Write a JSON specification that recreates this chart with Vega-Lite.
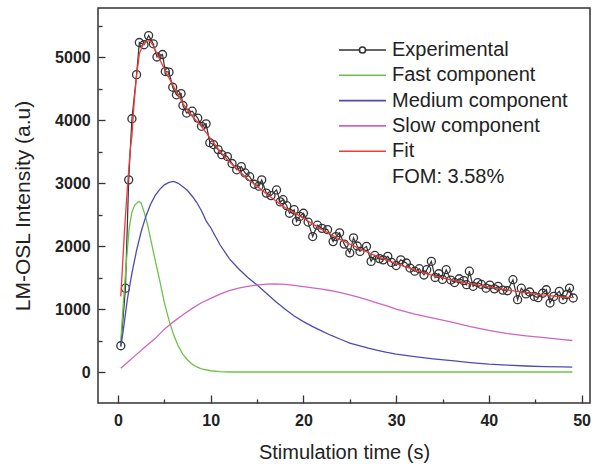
{
  "$schema": "https://vega.github.io/schema/vega-lite/v6.json",
  "width": 492,
  "height": 395,
  "autosize": "none",
  "padding": {"left": 98, "top": 8, "right": 5, "bottom": 61},
  "config": {
    "view": {"stroke": "#333333", "strokeWidth": 1.5},
    "font": "Liberation Sans"
  },
  "datasets": {
    "exp": [
      {"t": 0.3, "I": 417}, {"t": 0.8, "I": 1330}, {"t": 1.15, "I": 3050}, {"t": 1.5, "I": 4020},
      {"t": 2.0, "I": 4720}, {"t": 2.3, "I": 5230}, {"t": 2.8, "I": 5195}, {"t": 3.3, "I": 5340},
      {"t": 3.8, "I": 5210}, {"t": 4.2, "I": 5000}, {"t": 4.8, "I": 5040}, {"t": 5.1, "I": 4770},
      {"t": 5.5, "I": 4760}, {"t": 5.9, "I": 4520}, {"t": 6.3, "I": 4400}, {"t": 6.8, "I": 4420},
      {"t": 7.0, "I": 4230}, {"t": 7.4, "I": 4110}, {"t": 8.0, "I": 4140}, {"t": 8.6, "I": 4030},
      {"t": 9.0, "I": 3900}, {"t": 9.5, "I": 3940}, {"t": 9.9, "I": 3640}, {"t": 10.3, "I": 3610},
      {"t": 10.8, "I": 3530}, {"t": 11.2, "I": 3450}, {"t": 11.8, "I": 3420}, {"t": 12.3, "I": 3310},
      {"t": 12.8, "I": 3210}, {"t": 13.3, "I": 3260}, {"t": 13.7, "I": 3160}, {"t": 14.2, "I": 3100},
      {"t": 14.7, "I": 2980}, {"t": 15.2, "I": 2950}, {"t": 15.5, "I": 3050}, {"t": 16.0, "I": 2840},
      {"t": 16.5, "I": 2800}, {"t": 17.1, "I": 2890}, {"t": 17.5, "I": 2700}, {"t": 17.8, "I": 2735},
      {"t": 18.2, "I": 2640}, {"t": 18.5, "I": 2520}, {"t": 19.0, "I": 2576}, {"t": 19.25, "I": 2390},
      {"t": 19.6, "I": 2470}, {"t": 20.0, "I": 2520}, {"t": 20.5, "I": 2380}, {"t": 21.0, "I": 2150},
      {"t": 21.5, "I": 2330}, {"t": 22.0, "I": 2280}, {"t": 22.6, "I": 2260}, {"t": 23.2, "I": 2070},
      {"t": 23.5, "I": 2150}, {"t": 23.9, "I": 2210}, {"t": 24.4, "I": 2030}, {"t": 25.0, "I": 1890},
      {"t": 25.4, "I": 2130}, {"t": 25.8, "I": 2000}, {"t": 26.1, "I": 1914}, {"t": 26.8, "I": 1994},
      {"t": 27.3, "I": 1756}, {"t": 27.7, "I": 1850}, {"t": 28.2, "I": 1800}, {"t": 28.6, "I": 1780},
      {"t": 29.1, "I": 1835}, {"t": 29.5, "I": 1740}, {"t": 30.0, "I": 1690}, {"t": 30.5, "I": 1780},
      {"t": 31.1, "I": 1730}, {"t": 31.5, "I": 1650}, {"t": 32.0, "I": 1600}, {"t": 32.5, "I": 1640},
      {"t": 33.0, "I": 1540}, {"t": 33.3, "I": 1624}, {"t": 33.8, "I": 1756}, {"t": 34.2, "I": 1500},
      {"t": 34.6, "I": 1560}, {"t": 35.0, "I": 1470}, {"t": 35.4, "I": 1624}, {"t": 35.9, "I": 1460},
      {"t": 36.3, "I": 1420}, {"t": 36.8, "I": 1480}, {"t": 37.3, "I": 1450}, {"t": 37.6, "I": 1386},
      {"t": 37.9, "I": 1600}, {"t": 38.3, "I": 1360}, {"t": 38.8, "I": 1420}, {"t": 39.2, "I": 1390},
      {"t": 39.7, "I": 1330}, {"t": 40.1, "I": 1380}, {"t": 40.6, "I": 1320}, {"t": 41.0, "I": 1360},
      {"t": 41.5, "I": 1300}, {"t": 42.0, "I": 1290}, {"t": 42.6, "I": 1465}, {"t": 43.1, "I": 1148},
      {"t": 43.5, "I": 1330}, {"t": 44.0, "I": 1240}, {"t": 44.4, "I": 1270}, {"t": 44.9, "I": 1200},
      {"t": 45.3, "I": 1180}, {"t": 45.8, "I": 1250}, {"t": 46.2, "I": 1306}, {"t": 46.6, "I": 1095},
      {"t": 47.0, "I": 1200}, {"t": 47.6, "I": 1280}, {"t": 48.0, "I": 1150}, {"t": 48.4, "I": 1230},
      {"t": 48.7, "I": 1333}, {"t": 49.1, "I": 1175}
    ],
    "comps": [
      {"s": "Fast component", "t": 0.3, "I": 500}, {"s": "Fast component", "t": 0.6, "I": 1150},
      {"s": "Fast component", "t": 0.9, "I": 1750}, {"s": "Fast component", "t": 1.2, "I": 2280},
      {"s": "Fast component", "t": 1.5, "I": 2540}, {"s": "Fast component", "t": 1.8, "I": 2650},
      {"s": "Fast component", "t": 2.1, "I": 2695}, {"s": "Fast component", "t": 2.3, "I": 2705},
      {"s": "Fast component", "t": 2.5, "I": 2680}, {"s": "Fast component", "t": 2.9, "I": 2500},
      {"s": "Fast component", "t": 3.2, "I": 2330}, {"s": "Fast component", "t": 3.5, "I": 2120},
      {"s": "Fast component", "t": 4.0, "I": 1780}, {"s": "Fast component", "t": 4.5, "I": 1450},
      {"s": "Fast component", "t": 5.0, "I": 1100}, {"s": "Fast component", "t": 5.5, "I": 820},
      {"s": "Fast component", "t": 6.0, "I": 590}, {"s": "Fast component", "t": 6.5, "I": 410},
      {"s": "Fast component", "t": 7.0, "I": 280}, {"s": "Fast component", "t": 7.5, "I": 190},
      {"s": "Fast component", "t": 8.0, "I": 125}, {"s": "Fast component", "t": 8.5, "I": 80},
      {"s": "Fast component", "t": 9.0, "I": 50}, {"s": "Fast component", "t": 10.0, "I": 20},
      {"s": "Fast component", "t": 11.0, "I": 6}, {"s": "Fast component", "t": 12.0, "I": 0},
      {"s": "Fast component", "t": 49.0, "I": 0},
      {"s": "Medium component", "t": 0.3, "I": 400}, {"s": "Medium component", "t": 0.6, "I": 700},
      {"s": "Medium component", "t": 1.0, "I": 1150}, {"s": "Medium component", "t": 1.5, "I": 1570},
      {"s": "Medium component", "t": 2.0, "I": 1930}, {"s": "Medium component", "t": 2.5, "I": 2230},
      {"s": "Medium component", "t": 3.0, "I": 2470}, {"s": "Medium component", "t": 3.5, "I": 2660},
      {"s": "Medium component", "t": 4.0, "I": 2800}, {"s": "Medium component", "t": 4.5, "I": 2900},
      {"s": "Medium component", "t": 5.0, "I": 2970}, {"s": "Medium component", "t": 5.5, "I": 3010},
      {"s": "Medium component", "t": 6.0, "I": 3025}, {"s": "Medium component", "t": 6.5, "I": 2995},
      {"s": "Medium component", "t": 7.0, "I": 2940}, {"s": "Medium component", "t": 7.5, "I": 2880},
      {"s": "Medium component", "t": 8.0, "I": 2790}, {"s": "Medium component", "t": 8.5, "I": 2690},
      {"s": "Medium component", "t": 9.0, "I": 2560}, {"s": "Medium component", "t": 9.5, "I": 2400},
      {"s": "Medium component", "t": 10.0, "I": 2290}, {"s": "Medium component", "t": 11.0, "I": 2020},
      {"s": "Medium component", "t": 12.0, "I": 1800}, {"s": "Medium component", "t": 13.0, "I": 1640},
      {"s": "Medium component", "t": 14.0, "I": 1500}, {"s": "Medium component", "t": 15.0, "I": 1380},
      {"s": "Medium component", "t": 16.0, "I": 1250}, {"s": "Medium component", "t": 17.0, "I": 1120},
      {"s": "Medium component", "t": 18.0, "I": 1000}, {"s": "Medium component", "t": 19.0, "I": 890},
      {"s": "Medium component", "t": 20.0, "I": 800}, {"s": "Medium component", "t": 21.0, "I": 720},
      {"s": "Medium component", "t": 22.0, "I": 650}, {"s": "Medium component", "t": 23.0, "I": 580},
      {"s": "Medium component", "t": 24.0, "I": 520}, {"s": "Medium component", "t": 25.0, "I": 460},
      {"s": "Medium component", "t": 26.0, "I": 420}, {"s": "Medium component", "t": 27.0, "I": 380},
      {"s": "Medium component", "t": 28.0, "I": 345}, {"s": "Medium component", "t": 29.0, "I": 310},
      {"s": "Medium component", "t": 30.0, "I": 285}, {"s": "Medium component", "t": 32.0, "I": 245},
      {"s": "Medium component", "t": 34.0, "I": 210}, {"s": "Medium component", "t": 36.0, "I": 180},
      {"s": "Medium component", "t": 38.0, "I": 150}, {"s": "Medium component", "t": 40.0, "I": 125},
      {"s": "Medium component", "t": 42.0, "I": 110}, {"s": "Medium component", "t": 44.0, "I": 95},
      {"s": "Medium component", "t": 46.0, "I": 85}, {"s": "Medium component", "t": 48.0, "I": 80},
      {"s": "Medium component", "t": 49.0, "I": 78},
      {"s": "Slow component", "t": 0.3, "I": 60}, {"s": "Slow component", "t": 1.0, "I": 150},
      {"s": "Slow component", "t": 2.0, "I": 280}, {"s": "Slow component", "t": 3.0, "I": 410},
      {"s": "Slow component", "t": 4.0, "I": 530}, {"s": "Slow component", "t": 5.0, "I": 680},
      {"s": "Slow component", "t": 6.0, "I": 800}, {"s": "Slow component", "t": 7.0, "I": 910},
      {"s": "Slow component", "t": 8.0, "I": 1010}, {"s": "Slow component", "t": 9.0, "I": 1100},
      {"s": "Slow component", "t": 10.0, "I": 1170}, {"s": "Slow component", "t": 11.0, "I": 1235},
      {"s": "Slow component", "t": 12.0, "I": 1290}, {"s": "Slow component", "t": 13.0, "I": 1330},
      {"s": "Slow component", "t": 14.0, "I": 1360}, {"s": "Slow component", "t": 15.0, "I": 1380},
      {"s": "Slow component", "t": 16.0, "I": 1395}, {"s": "Slow component", "t": 17.0, "I": 1398},
      {"s": "Slow component", "t": 18.0, "I": 1390}, {"s": "Slow component", "t": 19.0, "I": 1375},
      {"s": "Slow component", "t": 20.0, "I": 1355}, {"s": "Slow component", "t": 21.0, "I": 1335},
      {"s": "Slow component", "t": 22.0, "I": 1315}, {"s": "Slow component", "t": 23.0, "I": 1290},
      {"s": "Slow component", "t": 24.0, "I": 1260}, {"s": "Slow component", "t": 25.0, "I": 1225},
      {"s": "Slow component", "t": 26.0, "I": 1185}, {"s": "Slow component", "t": 27.0, "I": 1140},
      {"s": "Slow component", "t": 28.0, "I": 1095}, {"s": "Slow component", "t": 29.0, "I": 1050},
      {"s": "Slow component", "t": 30.0, "I": 1000}, {"s": "Slow component", "t": 32.0, "I": 920},
      {"s": "Slow component", "t": 34.0, "I": 855}, {"s": "Slow component", "t": 36.0, "I": 790},
      {"s": "Slow component", "t": 38.0, "I": 720}, {"s": "Slow component", "t": 40.0, "I": 660},
      {"s": "Slow component", "t": 42.0, "I": 610}, {"s": "Slow component", "t": 44.0, "I": 575},
      {"s": "Slow component", "t": 46.0, "I": 545}, {"s": "Slow component", "t": 48.0, "I": 515},
      {"s": "Slow component", "t": 49.0, "I": 500},
      {"s": "Fit", "t": 0.3, "I": 1200}, {"s": "Fit", "t": 0.7, "I": 2250}, {"s": "Fit", "t": 1.0, "I": 2900},
      {"s": "Fit", "t": 1.3, "I": 3500}, {"s": "Fit", "t": 1.5, "I": 3750}, {"s": "Fit", "t": 1.75, "I": 4300},
      {"s": "Fit", "t": 2.0, "I": 4700}, {"s": "Fit", "t": 2.3, "I": 5050}, {"s": "Fit", "t": 2.7, "I": 5200},
      {"s": "Fit", "t": 3.1, "I": 5250}, {"s": "Fit", "t": 3.4, "I": 5260}, {"s": "Fit", "t": 3.8, "I": 5180},
      {"s": "Fit", "t": 4.2, "I": 5050}, {"s": "Fit", "t": 4.7, "I": 4900}, {"s": "Fit", "t": 5.2, "I": 4750},
      {"s": "Fit", "t": 6.0, "I": 4530}, {"s": "Fit", "t": 7.0, "I": 4260}, {"s": "Fit", "t": 8.0, "I": 4060},
      {"s": "Fit", "t": 9.0, "I": 3900}, {"s": "Fit", "t": 10.0, "I": 3700}, {"s": "Fit", "t": 11.0, "I": 3500},
      {"s": "Fit", "t": 12.0, "I": 3340}, {"s": "Fit", "t": 13.0, "I": 3200}, {"s": "Fit", "t": 14.0, "I": 3060},
      {"s": "Fit", "t": 15.0, "I": 2950}, {"s": "Fit", "t": 16.0, "I": 2830}, {"s": "Fit", "t": 17.0, "I": 2720},
      {"s": "Fit", "t": 18.0, "I": 2610}, {"s": "Fit", "t": 19.0, "I": 2530}, {"s": "Fit", "t": 20.0, "I": 2440},
      {"s": "Fit", "t": 22.0, "I": 2260}, {"s": "Fit", "t": 24.0, "I": 2100}, {"s": "Fit", "t": 26.0, "I": 1960},
      {"s": "Fit", "t": 28.0, "I": 1830}, {"s": "Fit", "t": 30.0, "I": 1720}, {"s": "Fit", "t": 32.0, "I": 1620},
      {"s": "Fit", "t": 34.0, "I": 1530}, {"s": "Fit", "t": 36.0, "I": 1460}, {"s": "Fit", "t": 38.0, "I": 1400},
      {"s": "Fit", "t": 40.0, "I": 1350}, {"s": "Fit", "t": 42.0, "I": 1300}, {"s": "Fit", "t": 44.0, "I": 1260},
      {"s": "Fit", "t": 46.0, "I": 1220}, {"s": "Fit", "t": 48.0, "I": 1190}, {"s": "Fit", "t": 49.0, "I": 1180}
    ]
  },
  "resolve": {"axis": {"x": "independent", "y": "independent"}},
  "layer": [
    {
      "data": {"name": "exp"},
      "mark": {"type": "line", "strokeWidth": 1.2},
      "encoding": {
        "x": {
          "field": "t", "type": "quantitative",
          "scale": {"domain": [-2.16, 50.91], "nice": false, "zero": false},
          "axis": {
            "orient": "bottom",
            "title": "Stimulation time (s)",
            "values": [0, 10, 20, 30, 40, 50],
            "tickSize": -8,
            "tickColor": "#333333", "tickWidth": 1.3,
            "domain": false, "grid": false,
            "labelFont": "Liberation Sans", "labelFontSize": 16, "labelFontWeight": "bold", "labelColor": "#222222",
            "labelPadding": 17,
            "titleFont": "Liberation Sans", "titleFontSize": 20, "titleFontWeight": "normal", "titleColor": "#222222",
            "titlePadding": 14
          }
        },
        "y": {
          "field": "I", "type": "quantitative",
          "scale": {"domain": [-492, 5778], "nice": false, "zero": false},
          "axis": {
            "orient": "left",
            "title": "LM-OSL Intensity (a.u)",
            "values": [0, 1000, 2000, 3000, 4000, 5000],
            "format": "d",
            "tickSize": -7,
            "tickColor": "#333333", "tickWidth": 1.3,
            "domain": false, "grid": false,
            "labelFont": "Liberation Sans", "labelFontSize": 16, "labelFontWeight": "bold", "labelColor": "#222222",
            "labelPadding": 14.8,
            "titleFont": "Liberation Sans", "titleFontSize": 21, "titleFontWeight": "normal", "titleColor": "#222222",
            "titlePadding": 21
          }
        },
        "color": {"datum": "Experimental", "type": "nominal"}
      }
    },
    {
      "data": {"name": "exp"},
      "mark": {"type": "point", "shape": "circle", "filled": false, "size": 64, "stroke": "#333333", "strokeWidth": 1.3, "opacity": 1},
      "encoding": {
        "x": {
          "field": "t", "type": "quantitative",
          "axis": {
            "orient": "bottom", "title": null, "labels": false,
            "values": [5, 15, 25, 35, 45],
            "tickSize": -4, "tickColor": "#333333", "tickWidth": 1.3,
            "domain": false, "grid": false
          }
        },
        "y": {
          "field": "I", "type": "quantitative",
          "axis": {
            "orient": "left", "title": null, "labels": false,
            "values": [500, 1500, 2500, 3500, 4500, 5500],
            "tickSize": -4, "tickColor": "#333333", "tickWidth": 1.3,
            "domain": false, "grid": false
          }
        }
      }
    },
    {
      "data": {"name": "comps"},
      "mark": {"type": "line", "strokeWidth": 1.3},
      "encoding": {
        "x": {"field": "t", "type": "quantitative", "axis": null},
        "y": {"field": "I", "type": "quantitative", "axis": null},
        "color": {
          "field": "s", "type": "nominal",
          "scale": {
            "domain": ["Experimental", "Fast component", "Medium component", "Slow component", "Fit", "FOM: 3.58%"],
            "range": ["#333333", "#6cc24a", "#4d4cae", "#d163c2", "#ee3b3b", "transparent"]
          },
          "legend": {
            "orient": "none", "legendX": 240, "legendY": 32,
            "title": null, "padding": 0,
            "symbolType": "stroke", "symbolSize": 2209, "symbolStrokeWidth": 1.6,
            "clipHeight": 20, "rowPadding": 5.3,
            "labelFont": "Liberation Sans", "labelFontSize": 20, "labelColor": "#222222", "labelOffset": 5,
            "labelLimit": 300,
            "encode": {
              "symbols": {
                "update": {
                  "shape": [
                    {"test": "datum.label === 'Experimental'", "value": "M-1,0H-0.14M0.14,0H1M-0.13,0A0.13,0.13 0 1 0 0.13,0A0.13,0.13 0 1 0 -0.13,0"},
                    {"value": "stroke"}
                  ]
                }
              }
            }
          }
        }
      }
    }
  ]
}
